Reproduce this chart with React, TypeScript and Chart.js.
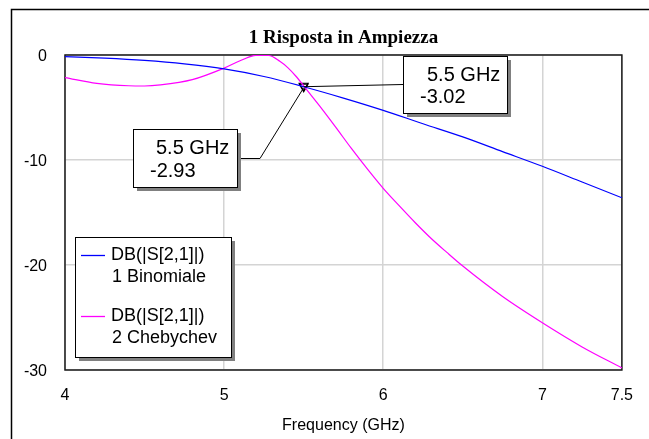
import React, { useEffect, useRef } from "react";
import { Chart, registerables } from "chart.js";

Chart.register(...registerables);

const chartTitle = "1 Risposta in Ampiezza";
const xAxisTitle = "Frequency (GHz)";
const xTicks = [4, 5, 6, 7, 7.5];
const yTicks = [0, -10, -20, -30];

const binFreq = [4.0, 4.25, 4.5, 4.75, 5.0, 5.25, 5.5, 5.75, 6.0, 6.25, 6.5, 6.75, 7.0, 7.25, 7.5];
const binDb = [-0.15, -0.3, -0.52, -0.85, -1.33, -2.05, -3.02, -4.1, -5.27, -6.55, -7.8, -9.2, -10.6, -12.1, -13.6];

const chebFreq = [4.0, 4.2, 4.4, 4.5, 4.6, 4.8, 5.0, 5.1, 5.2, 5.28, 5.35, 5.4, 5.45, 5.5, 5.6, 5.7, 5.8, 5.9, 6.0, 6.1, 6.2, 6.3, 6.4, 6.5, 6.75, 7.0, 7.25, 7.5];
const chebDb = [-2.15, -2.7, -2.93, -2.95, -2.85, -2.35, -1.25, -0.55, -0.03, -0.05, -0.6, -1.2, -2.0, -2.93, -4.85, -6.85, -8.9, -10.85, -12.7, -14.35, -15.95, -17.45, -18.8, -20.1, -23.0, -25.5, -27.8, -29.8];

const seriesNames = ["DB(|S[2,1]|)", "DB(|S[2,1]|)"];
const seriesSubNames = ["1 Binomiale", "2 Chebychev"];
const seriesColors = ["#0000ff", "#ff00ff"];

const markerFreq = [5.5, 5.5];
const markerDb = [-3.02, -2.93];
const markerLabels = ["5.5 GHz", "5.5 GHz"];

const SANS = "'Liberation Sans', Arial, sans-serif";
const SERIF = "'Liberation Serif', 'Times New Roman', serif";

const decorPlugin = {
  id: "decor",
  beforeDatasetsDraw(chart: any) {
    const { ctx, chartArea: a } = chart;
    ctx.save();
    ctx.strokeStyle = "#1a1a1a";
    ctx.lineWidth = 1.5;
    ctx.strokeRect(a.left, a.top, a.right - a.left, a.bottom - a.top);
    ctx.restore();
  },
  afterDraw(chart: any) {
    const { ctx, chartArea: a } = chart;
    const xs = chart.scales.x;
    const ys = chart.scales.y;
    ctx.save();

    // outer frame
    ctx.strokeStyle = "#000";
    ctx.lineWidth = 1.5;
    ctx.beginPath();
    ctx.moveTo(11.5, 460);
    ctx.lineTo(11.5, 9.5);
    ctx.lineTo(700, 9.5);
    ctx.stroke();

    // title
    const cx = (a.left + a.right) / 2;
    ctx.fillStyle = "#000";
    ctx.textAlign = "center";
    ctx.textBaseline = "middle";
    ctx.font = `bold 19px ${SERIF}`;
    ctx.fillText(chartTitle, cx, 38);

    // x axis title
    ctx.font = `16px ${SANS}`;
    ctx.fillText(xAxisTitle, cx, 426);

    // leader lines
    const m1x = xs.getPixelForValue(markerFreq[0]);
    const m1y = ys.getPixelForValue(markerDb[0]);
    const m2x = xs.getPixelForValue(markerFreq[1]);
    const m2y = ys.getPixelForValue(markerDb[1]);
    ctx.strokeStyle = "#000";
    ctx.lineWidth = 1;
    ctx.beginPath();
    ctx.moveTo(m1x, m1y);
    ctx.lineTo(403, 84.5);
    ctx.stroke();
    ctx.beginPath();
    ctx.moveTo(m2x, m2y + 2);
    ctx.lineTo(260, 158.5);
    ctx.lineTo(237, 158.5);
    ctx.stroke();

    const box = (x: number, y: number, w: number, h: number) => {
      ctx.fillStyle = "#808080";
      ctx.fillRect(x + 4, y + 4, w, h);
      ctx.fillStyle = "#fff";
      ctx.fillRect(x, y, w, h);
      ctx.strokeStyle = "#000";
      ctx.lineWidth = 1;
      ctx.strokeRect(x + 0.5, y + 0.5, w, h);
    };

    // marker label boxes
    ctx.textAlign = "left";
    ctx.textBaseline = "middle";
    box(403, 56, 104, 57);
    ctx.fillStyle = "#000";
    ctx.font = `20px ${SANS}`;
    ctx.fillText(markerLabels[0], 427, 75);
    ctx.fillText(markerDb[0].toFixed(2), 420, 97);

    box(133, 129, 104, 58);
    ctx.fillStyle = "#000";
    ctx.fillText(markerLabels[1], 156, 148);
    ctx.fillText(markerDb[1].toFixed(2), 150, 171);

    // legend
    box(75, 237, 156, 120);
    ctx.font = `18px ${SANS}`;
    const rows = [255.5, 316.5];
    for (let i = 0; i < 2; i++) {
      ctx.strokeStyle = seriesColors[i];
      ctx.lineWidth = 1.3;
      ctx.beginPath();
      ctx.moveTo(81, rows[i]);
      ctx.lineTo(105, rows[i]);
      ctx.stroke();
      ctx.fillStyle = "#000";
      ctx.fillText(seriesNames[i], 111, rows[i]);
      ctx.fillText(seriesSubNames[i], 112, rows[i] + 22);
    }
    ctx.restore();
  },
};

export default function App() {
  const ref = useRef<HTMLCanvasElement>(null);
  useEffect(() => {
    if (!ref.current) return;
    const chart = new Chart(ref.current, {
      type: "line",
      data: {
        datasets: [
          {
            label: seriesSubNames[0],
            data: binFreq.map((f, i) => ({ x: f, y: binDb[i] })),
            borderColor: seriesColors[0],
            borderWidth: 1.2,
            pointRadius: 0,
            cubicInterpolationMode: "monotone",
            fill: false,
          },
          {
            label: seriesSubNames[1],
            data: chebFreq.map((f, i) => ({ x: f, y: chebDb[i] })),
            borderColor: seriesColors[1],
            borderWidth: 1.2,
            pointRadius: 0,
            cubicInterpolationMode: "monotone",
            fill: false,
          },
          {
            label: "markers",
            data: markerFreq.map((f, i) => ({ x: f, y: markerDb[i] })),
            showLine: false,
            pointStyle: "triangle",
            rotation: 180,
            pointRadius: 5,
            pointBorderColor: "#000",
            pointBackgroundColor: "rgba(0,0,0,0)",
            pointBorderWidth: 1.2,
            clip: false,
          } as any,
        ],
      },
      options: {
        responsive: false,
        animation: false,
        devicePixelRatio: 1,
        layout: { padding: { left: 0, right: 25, top: 55, bottom: 0 } },
        plugins: { legend: { display: false }, tooltip: { enabled: false }, title: { display: false } },
        scales: {
          x: {
            type: "linear",
            min: 4,
            max: 7.5,
            afterBuildTicks: (s: any) => {
              s.ticks = xTicks.map((v) => ({ value: v }));
            },
            afterFit: (s: any) => {
              s.height = 69;
            },
            grid: { color: "#d4d4d4", lineWidth: 1.5, drawTicks: false },
            border: { display: false },
            ticks: {
              autoSkip: false,
              maxRotation: 0,
              padding: 16,
              color: "#000",
              font: { family: SANS, size: 16 },
              callback: (v: any) => String(v),
            },
          },
          y: {
            type: "linear",
            min: -30,
            max: 0,
            afterBuildTicks: (s: any) => {
              s.ticks = yTicks.map((v) => ({ value: v }));
            },
            afterFit: (s: any) => {
              s.width = 65;
            },
            grid: { color: "#d4d4d4", lineWidth: 1.5, drawTicks: false },
            border: { display: false },
            ticks: {
              padding: 18,
              labelOffset: 2,
              color: "#000",
              font: { family: SANS, size: 16 },
              callback: (v: any) => String(v),
            },
          },
        },
      },
      plugins: [decorPlugin],
    });
    return () => chart.destroy();
  }, []);
  return (
    <div style={{ position: "fixed", left: 0, top: 0, width: 649, height: 439, background: "#fff" }}>
      <canvas ref={ref} width={649} height={439} style={{ display: "block" }} />
    </div>
  );
}
